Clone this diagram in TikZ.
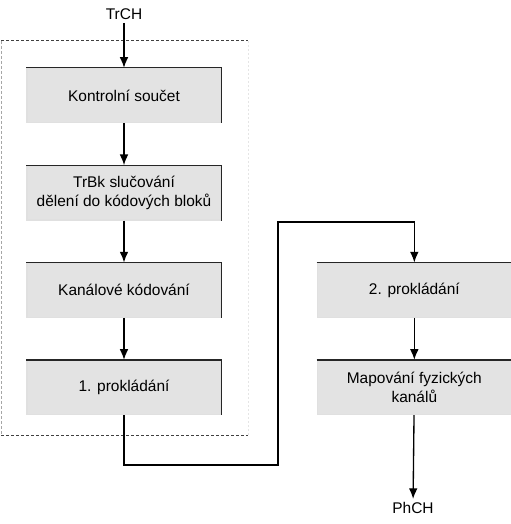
\documentclass[tikz,border=0pt]{standalone}
\usepackage{fontspec}
\setmainfont{Liberation Sans}
\usetikzlibrary{arrows.meta}
\usetikzlibrary{positioning}

\begin{document}
\begin{tikzpicture}[x=0.75pt,y=-0.75pt,box/.style={draw=black!12, fill=black!11,align=center,minimum height=40.5pt, minimum width=145.5pt,inner sep=0pt,font=\fontsize{11.6}{13.8}\selectfont},node distance=31.5pt and 71.25pt,line width=1pt,->,>={Latex[length=8pt,width=6.5pt]}]
		\useasboundingbox (0,0) rectangle (510,524);

		% dashed frame
		\draw[-,line width=0.75pt,dash pattern=on 2.25pt off 1.5pt,black!75] (1,41) -- (248,41);
		\draw[-,line width=0.75pt,dash pattern=on 2.25pt off 1.5pt,black!75] (1,435) -- (248,435);
		\draw[-,line width=0.75pt,dash pattern=on 2.25pt off 1.5pt,black!35] (1,41) -- (1,435);
		\draw[-,line width=0.75pt,dash pattern=on 1.5pt off 1.5pt,black!10] (248,41) -- (248,435);

		\node[box] (ks) at (124,95.5) {Kontrolní součet};
		\node[box,below=of ks] (trbk) {TrBk slučování\\dělení do kódových bloků};
		\node[box,below=of trbk] (kk) {Kanálové kódování};
		\node[box,below=of kk] (p1) {1. prokládání};
		\node[box,right=of kk] (p2) {2. prokládání};
		\node[box,below=of p2] (map) {Mapování fyzických\\kanálů};

		\node[font=\fontsize{11.6}{13.8}\selectfont,inner sep=2pt] (trch) at (124,14) {TrCH};
		\node[font=\fontsize{11.6}{13.8}\selectfont,inner sep=2pt] (phch) at (413,508) {PhCH};

		% dark top and right edges
		\foreach \b in {ks,trbk,kk,p1,p2,map}
			\draw[-,black!85] (\b.north west) -- (\b.north east) -- (\b.south east);

		\coordinate (bendA) at (278,465);
		\coordinate (bendB) at (278,222);

		\draw (trch) -- (ks);
		\draw (ks) -- (trbk);
		\draw (trbk) -- (kk);
		\draw (kk) -- (p1);
		\draw (p1) |- (bendA) -- (bendB) -| (p2);
		\draw (p2) -- (map);
		\draw (map) -- (phch);
\end{tikzpicture}
\end{document}
